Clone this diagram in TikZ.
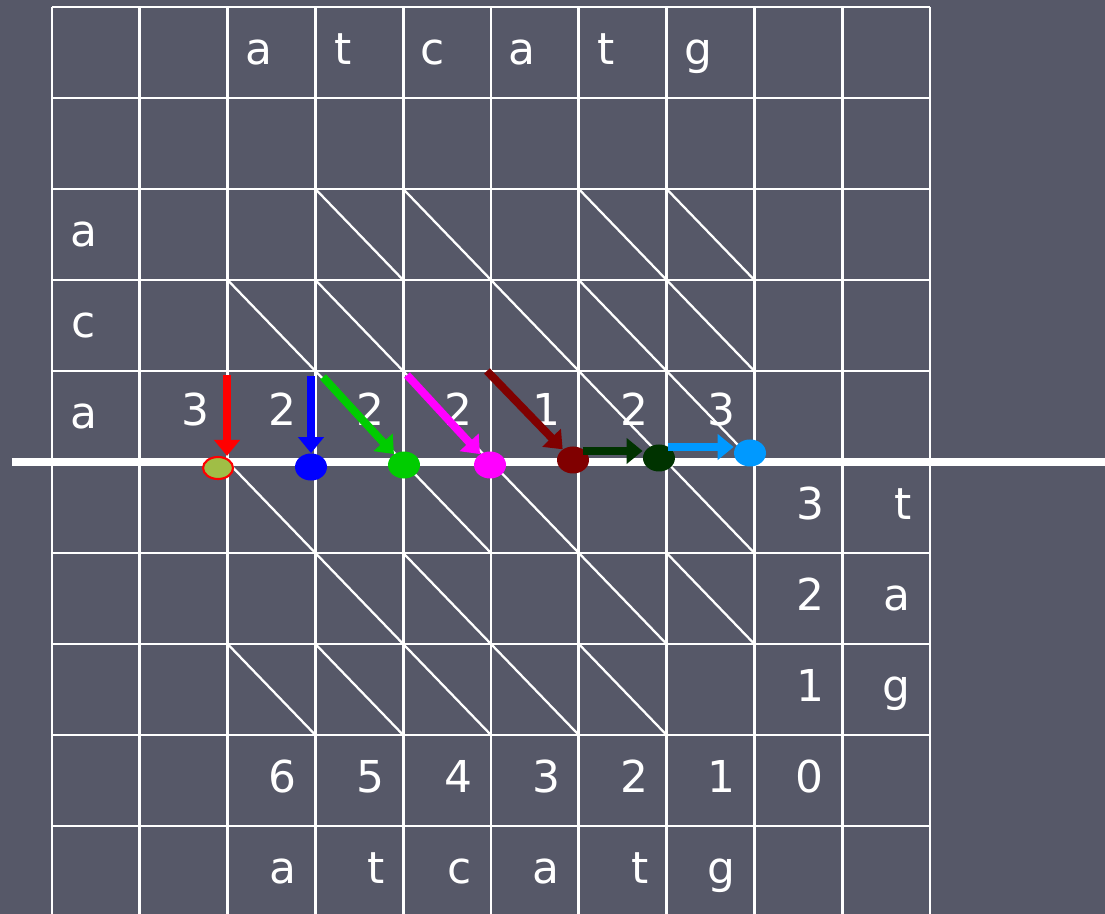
\documentclass[tikz,border=0pt]{standalone}
\usepackage{fontspec}
\setmainfont{DejaVu Sans}
\usepackage{tikz}
\usetikzlibrary{arrows.meta, shapes.geometric}
\definecolor{slide}{RGB}{86,88,104}
\definecolor{olivefill}{RGB}{160,190,70}
\definecolor{maroon}{RGB}{128,0,0}
\definecolor{forest}{RGB}{0,51,0}
\definecolor{sky}{RGB}{0,153,255}
\definecolor{brightgreen}{RGB}{0,204,0}
\definecolor{pink}{RGB}{255,0,255}
\tikzset{
  gridline/.style={draw=white, line width=1.6pt},
  diag/.style={draw=white, line width=1.3pt},
  cutline/.style={draw=white, line width=4.5pt},
  lbl/.style={text=white, font=\fontsize{25}{30}\selectfont, inner sep=0pt, anchor=base},
  dot/.style={ellipse, minimum width=0.64cm, minimum height=0.54cm, inner sep=0pt},
  move/.style={line width=4.5pt, -{Triangle[length=0.32cm, width=0.5cm]}},
}

\begin{document}
\begin{tikzpicture}[x=1.756cm, y=-1.82cm]
  % background and size
  \fill[slide] (-0.5923,-0.0769) rectangle (11.9932,9.967);
  \useasboundingbox (-0.5923,-0.0769) rectangle (11.9932,9.967);

  % the grid
  \foreach \c in {0,...,10}
    \draw[gridline] (\c,0) -- (\c,9.967);
  \foreach \r in {0,...,9}
    \draw[gridline] (0,\r) -- (10,\r);

  % diagonals, row/columns
  \foreach \r/\cols in {2/{3,4,6,7}, 3/{2,3,5,6,7}, 4/{3,4,6,7},
                        5/{2,4,5,7}, 6/{3,4,6,7}, 7/{2,3,4,5,6}}
    \foreach \c in \cols
      \draw[diag] (\c,\r) -- (\c+1,\r+1);

  % cut line
  \coordinate (cutL) at (-0.456,5);
  \coordinate (cutR) at (11.9932,5);
  \draw[cutline] (cutL) -- (cutR);

  % sequences
  \foreach \x/\t [count=\i] in {2.358/a, 3.314/t, 4.339/c, 5.353/a, 6.310/t, 7.358/g}
    \node[lbl] (top\i) at (\x,0.637) {\t};
  \foreach \r/\t in {2/a, 3/c, 4/a}
    \node[lbl] (left\r) at (0.364,\r+0.637) {\t};
  \foreach \x/\t [count=\i] in {2.63/a, 3.69/t, 4.647/c, 5.626/a, 6.697/t, 7.62/g}
    \node[lbl] (bot\i) at (\x,9.637) {\t};
  \foreach \r/\t/\x in {5/t/9.69, 6/a/9.62, 7/g/9.62}
    \node[lbl] (right\r) at (\x,\r+0.637) {\t};

  % scores
  \foreach \c/\v in {1/3, 2/2, 3/2, 4/2, 5/1, 6/2, 7/3}
    \node[lbl] (mid\c) at (\c+0.63,4.604) {\v};
  \foreach \c/\v in {2/6, 3/5, 4/4, 5/3, 6/2, 7/1, 8/0}
    \node[lbl] (rev\c) at (\c+0.63,8.637) {\v};
  \foreach \r/\v in {5/3, 6/2, 7/1}
    \node[lbl] (dist\r) at (8.633,\r+0.637) {\v};

  % end points on the cut
  \node[dot, fill=olivefill, draw=red, line width=1.2pt, minimum width=0.6cm, minimum height=0.44cm] (d1) at (1.891,5.066) {};
  \node[dot, fill=blue] (d2) at (2.950,5.055) {};
  \node[dot, fill=brightgreen] (d3) at (4.009,5.033) {};
  \node[dot, fill=pink] (d4) at (4.989,5.033) {};
  \node[dot, fill=maroon] (d5) at (5.934,4.978) {};
  \node[dot, fill=forest] (d6) at (6.913,4.956) {};
  \node[dot, fill=sky] (d7) at (7.950,4.901) {};

  \coordinate (s1) at (1.993,4.044);
  \coordinate (s2) at (2.950,4.055);
  \coordinate (s3) at (3.087,4.066);
  \coordinate (s4) at (4.043,4.044);
  \coordinate (s5) at (4.954,4.000);
  \coordinate (s6) at (6.048,4.879);
  \coordinate (s7) at (7.016,4.835);

  \draw[move, red] (s1) -- (s1 |- d1.north);
  \draw[move, blue] (s2) -- (d2);
  \draw[move, brightgreen] (s3) -- (d3);
  \draw[move, pink] (s4) -- (d4);
  \draw[move, maroon] (s5) -- (d5);
  \draw[move, forest] (s6) -- (s6 -| d6.west);
  \draw[move, sky] (s7) -- (s7 -| d7.west);
\end{tikzpicture}
\end{document}
